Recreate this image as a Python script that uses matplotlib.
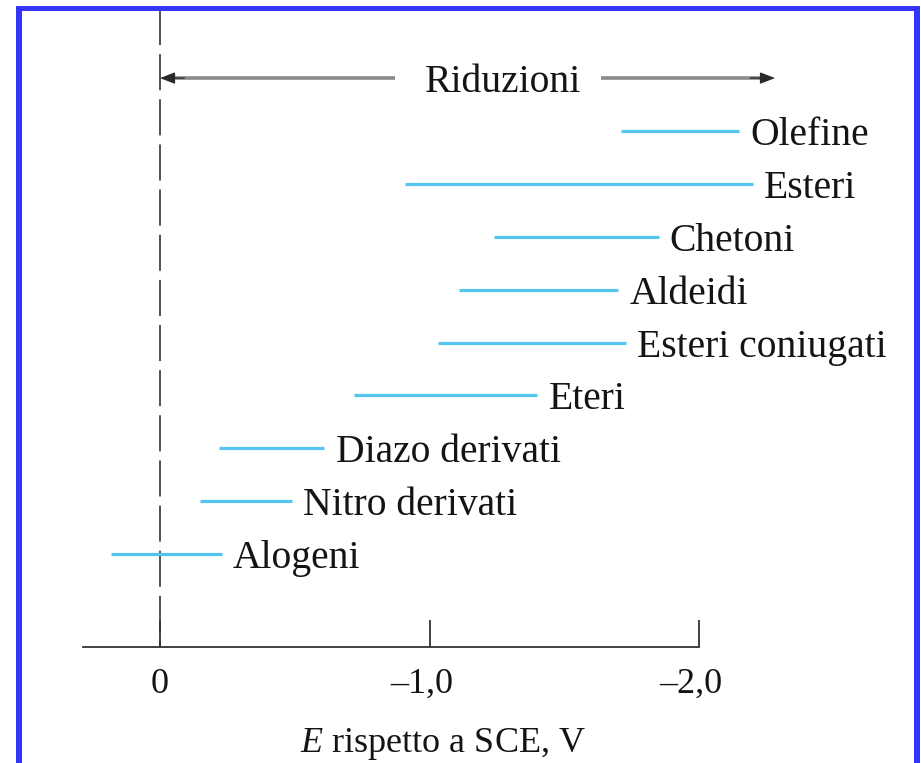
import matplotlib
matplotlib.use("Agg")
import matplotlib.pyplot as plt
import matplotlib.transforms as mtransforms
from matplotlib.patches import Rectangle

plt.rcParams["font.family"] = ["Liberation Serif", "DejaVu Serif"]
plt.rcParams["mathtext.fontset"] = "custom"
plt.rcParams["mathtext.rm"] = "Liberation Serif"
plt.rcParams["mathtext.it"] = "Liberation Serif:italic"
plt.rcParams["lines.scale_dashes"] = False

# Reduction potential ranges of organic functional groups (V vs SCE)
categories = ["Olefine", "Esteri", "Chetoni", "Aldeidi", "Esteri coniugati",
              "Eteri", "Diazo derivati", "Nitro derivati", "Alogeni"]
e_start = [-1.71, -0.91, -1.24, -1.11, -1.03, -0.72, -0.22, -0.15, 0.18]
e_end = [-2.15, -2.20, -1.85, -1.70, -1.73, -1.40, -0.61, -0.49, -0.23]

tick_values = [0.0, -1.0, -2.0]
tick_labels = ["0", "\u20131,0", "\u20132,0"]
axis_label = "$E$ rispetto a SCE, V"
arrow_label = "Riduzioni"

TEXT = "#141414"
LINE = "#55c4ee"
FS = 28.5
FS_AXIS = 26

fig = plt.figure(figsize=(9.21, 7.63), dpi=100)
fig.patch.set_facecolor("white")
ax = fig.add_axes([0, 0, 1, 1])
ax.set_facecolor("none")
ax.set_xlim(0.5937, -2.8237)
ax.set_ylim(11.947, -2.476)

rows = list(range(len(categories)))
axis_y = 9.754

# potential ranges
ax.hlines(rows, e_start, e_end, color=LINE, lw=2.3, zorder=3)
for cat, end, r in zip(categories, e_end, rows):
    ax.annotate(cat, xy=(end, r), xytext=(8, 0), textcoords="offset points",
                ha="left", va="center_baseline", fontsize=FS, color=TEXT)

# reference electrode line at 0 V
ax.vlines(0, -2.3, axis_y, colors="#333333", lw=1.2,
          linestyles=(0, (26, 6.5)), zorder=2)

# bottom axis
for s in ["left", "right", "top"]:
    ax.spines[s].set_visible(False)
ax.spines["bottom"].set_position(("data", axis_y))
ax.spines["bottom"].set_bounds(0.286, -2.0)
ax.spines["bottom"].set_linewidth(1.3)
ax.spines["bottom"].set_color("#333333")
ax.set_yticks([])
ax.set_xticks(tick_values)
ax.set_xticklabels(tick_labels, fontsize=FS_AXIS, color=TEXT)
ax.tick_params(axis="x", direction="in", length=19.5, width=1.3,
               color="#333333", pad=15)
# signed labels sit slightly left of their tick
for lab in ax.get_xticklabels()[1:]:
    lab.set_transform(lab.get_transform() +
                      mtransforms.ScaledTranslation(-8 / 100, 0,
                                                    fig.dpi_scale_trans))
ax.text(-1.05, 11.5, axis_label, ha="center", va="center_baseline",
        fontsize=FS_AXIS, color=TEXT)

# "Riduzioni" arrow
arrow_y = -1.0
ax.text(-1.273, arrow_y, arrow_label, ha="center", va="center_baseline",
        fontsize=FS, color=TEXT)
ax.plot([-0.02, -0.872], [arrow_y, arrow_y], color="#8a8a8a", lw=2.6,
        solid_capstyle="butt")
ax.plot([-1.636, -2.25], [arrow_y, arrow_y], color="#8a8a8a", lw=2.6,
        solid_capstyle="butt")
head = dict(arrowstyle="-|>,head_length=0.9,head_width=0.35",
            color="#2a2a2a", lw=1.0, shrinkA=0, shrinkB=0)
ax.annotate("", xy=(0.0, arrow_y), xytext=(-0.09, arrow_y), arrowprops=head)
ax.annotate("", xy=(-2.282, arrow_y), xytext=(-2.19, arrow_y), arrowprops=head)

# blue frame
blue = "#3434fb"
W, H = 921, 763
fig.add_artist(Rectangle((16 / W, 0), 6 / W, (H - 6) / H,
                         transform=fig.transFigure, color=blue, lw=0))
fig.add_artist(Rectangle((16 / W, (H - 11) / H), (920 - 16) / W, 5 / H,
                         transform=fig.transFigure, color=blue, lw=0))
fig.add_artist(Rectangle((914 / W, 0), 6 / W, (H - 6) / H,
                         transform=fig.transFigure, color=blue, lw=0))

fig.savefig("out.png", dpi=100, facecolor="white")
